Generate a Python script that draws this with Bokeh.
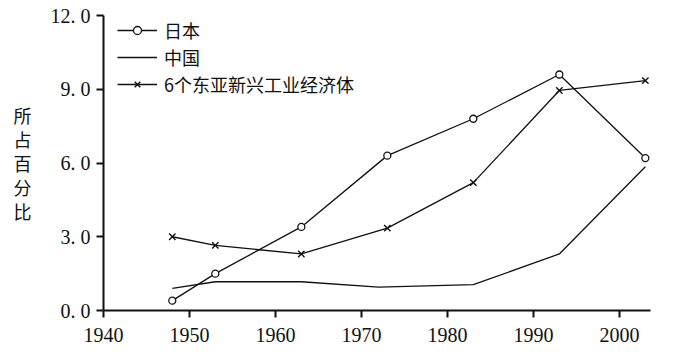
from bokeh.plotting import figure
from bokeh.models import Range1d, FixedTicker, Legend, LegendItem
from bokeh.embed import file_html
from bokeh.resources import INLINE

years_japan = [1948, 1953, 1963, 1973, 1983, 1993, 2003]
japan = [0.4, 1.5, 3.4, 6.3, 7.8, 9.6, 6.2]
years_china = [1948, 1953, 1963, 1972, 1983, 1993, 2003]
china = [0.9, 1.17, 1.17, 0.95, 1.05, 2.3, 5.85]
years_asia6 = [1948, 1953, 1963, 1973, 1983, 1993, 2003]
asia6 = [3.0, 2.65, 2.3, 3.35, 5.2, 8.95, 9.35]
series_names = ["日本", "中国", "6个东亚新兴工业经济体"]
x_ticks = [1940, 1950, 1960, 1970, 1980, 1990, 2000]
y_ticks = [0, 3, 6, 9, 12]
y_tick_labels = ["0. 0", "3. 0", "6. 0", "9. 0", "12. 0"]
y_title = "所\n占\n百\n分\n比"

INK = "#111111"

p = figure(width=680, height=354, output_backend="svg", toolbar_location=None,
           x_range=Range1d(1940, 2003.6), y_range=Range1d(0, 12),
           min_border_left=103, min_border_right=30, min_border_top=15,
           min_border_bottom=44)
p.outline_line_color = None
p.xgrid.visible = False
p.ygrid.visible = False
p.background_fill_color = "white"
p.border_fill_color = "white"

for ax in (p.xaxis[0], p.yaxis[0]):
    ax.axis_line_width = 2
    ax.axis_line_color = INK
    ax.major_tick_line_color = INK
    ax.major_tick_line_width = 2
    ax.major_tick_in = 0
    ax.major_tick_out = 7
    ax.minor_tick_line_color = None
    ax.major_label_text_font = "Liberation Serif"
    ax.major_label_text_font_size = "20px"
    ax.major_label_text_color = INK

p.xaxis.ticker = FixedTicker(ticks=x_ticks)
p.xaxis.major_label_standoff = 10
p.yaxis.ticker = FixedTicker(ticks=y_ticks)
p.yaxis.major_label_overrides = {t: s for t, s in zip(y_ticks, y_tick_labels)}
p.yaxis.major_label_standoff = 6
p.yaxis.axis_label = y_title
p.yaxis.axis_label_orientation = "horizontal"
p.yaxis.axis_label_text_font = "Noto Sans CJK SC"
p.yaxis.axis_label_text_font_style = "normal"
p.yaxis.axis_label_text_font_size = "18px"
p.yaxis.axis_label_text_line_height = 0.92
p.yaxis.axis_label_text_color = INK
p.yaxis.axis_label_standoff = 16

lj = p.line(years_japan, japan, line_color=INK, line_width=1.3)
sj = p.scatter(years_japan, japan, marker="circle", size=7, line_color=INK,
               line_width=1.3, fill_color="white")
lc = p.line(years_china, china, line_color=INK, line_width=1.3)
la = p.line(years_asia6, asia6, line_color=INK, line_width=1.3)
sa = p.scatter(years_asia6, asia6, marker="x", size=9, line_color=INK,
               line_width=1.4)

legend = Legend(items=[
    LegendItem(label=series_names[0], renderers=[lj, sj]),
    LegendItem(label=series_names[1], renderers=[lc]),
    LegendItem(label=series_names[2], renderers=[la, sa]),
], location=(14, 213))
legend.border_line_color = None
legend.background_fill_alpha = 0
legend.padding = 3
legend.margin = 0
legend.spacing = 1
legend.glyph_width = 40
legend.glyph_height = 20
legend.label_height = 20
legend.label_standoff = 7
legend.label_text_font = "Noto Sans CJK SC"
legend.label_text_font_size = "18px"
legend.label_text_color = INK
p.add_layout(legend)

open("out.html", "w").write(file_html(p, INLINE))
